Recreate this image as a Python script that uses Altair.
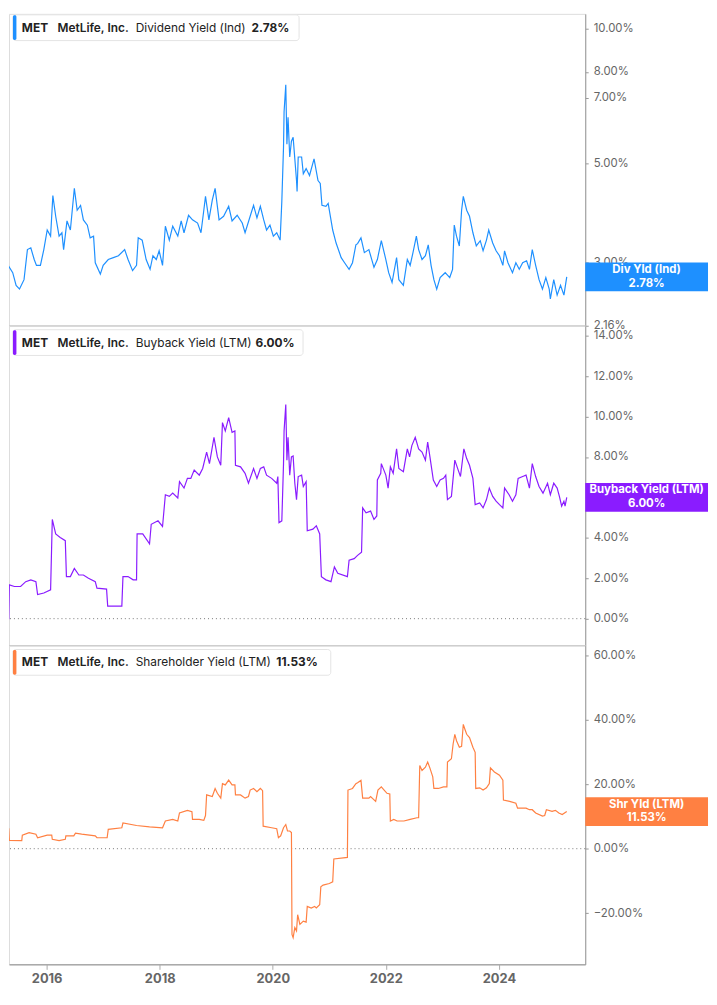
import altair as alt
import pandas as pd

# ---------------- data ----------------
div_years = [2015.19, 2015.31, 2015.32, 2015.40, 2015.46, 2015.52, 2015.60, 2015.66, 2015.72, 2015.78,
             2015.82, 2015.89, 2015.95, 2016.01, 2016.07, 2016.11, 2016.16, 2016.22, 2016.27, 2016.30,
             2016.36, 2016.42, 2016.49, 2016.54, 2016.60, 2016.65, 2016.72, 2016.77, 2016.83, 2016.86,
             2016.95, 2017.00, 2017.09, 2017.18, 2017.27, 2017.38, 2017.44, 2017.52, 2017.59, 2017.62,
             2017.69, 2017.76, 2017.83, 2017.88, 2017.94, 2017.99, 2018.05, 2018.10, 2018.17, 2018.23,
             2018.32, 2018.38, 2018.43, 2018.51, 2018.58, 2018.67, 2018.73, 2018.78, 2018.81, 2018.87,
             2018.93, 2018.98, 2019.05, 2019.13, 2019.22, 2019.28, 2019.37, 2019.46, 2019.51, 2019.60,
             2019.66, 2019.72, 2019.78, 2019.84, 2019.89, 2019.95, 2020.01, 2020.07, 2020.13, 2020.16,
             2020.19, 2020.20, 2020.23, 2020.25, 2020.27, 2020.30, 2020.33, 2020.36, 2020.42, 2020.43,
             2020.45, 2020.51, 2020.54, 2020.59, 2020.65, 2020.73, 2020.80, 2020.84, 2020.87, 2020.94,
             2020.98, 2021.06, 2021.12, 2021.21, 2021.27, 2021.35, 2021.41, 2021.47, 2021.50, 2021.56,
             2021.62, 2021.70, 2021.79, 2021.85, 2021.92, 2022.00, 2022.05, 2022.11, 2022.19, 2022.23,
             2022.31, 2022.38, 2022.43, 2022.48, 2022.54, 2022.58, 2022.64, 2022.70, 2022.75, 2022.80,
             2022.85, 2022.90, 2022.96, 2023.05, 2023.13, 2023.18, 2023.21, 2023.25, 2023.30, 2023.34,
             2023.37, 2023.43, 2023.48, 2023.54, 2023.60, 2023.67, 2023.72, 2023.78, 2023.82, 2023.89,
             2023.95, 2024.01, 2024.07, 2024.10, 2024.16, 2024.24, 2024.30, 2024.36, 2024.42, 2024.49,
             2024.54, 2024.59, 2024.65, 2024.71, 2024.77, 2024.83, 2024.89, 2024.91, 2024.97, 2025.03,
             2025.09, 2025.15, 2025.20]
div_values = [2.73, 2.77, 2.95, 2.84, 2.66, 2.61, 2.74, 3.20, 3.23, 3.04,
              2.95, 2.95, 3.20, 3.54, 3.43, 4.23, 3.80, 3.43, 3.49, 3.20,
              3.71, 3.54, 4.39, 3.92, 4.02, 3.73, 3.63, 3.40, 3.43, 2.99,
              2.82, 2.95, 3.04, 3.07, 3.10, 3.20, 3.04, 2.87, 2.95, 3.40,
              3.36, 3.04, 2.89, 3.10, 3.04, 3.18, 2.95, 3.61, 3.36, 3.61,
              3.43, 3.71, 3.49, 3.82, 3.73, 3.67, 3.49, 3.92, 4.21, 3.73,
              4.13, 4.39, 3.73, 3.80, 4.00, 3.71, 3.82, 3.67, 3.49, 3.80,
              4.02, 3.77, 4.00, 3.73, 3.54, 3.63, 3.43, 3.49, 3.36, 4.10,
              5.43, 6.52, 7.49, 5.51, 6.33, 5.16, 5.60, 5.71, 4.57, 4.32,
              5.16, 5.16, 4.73, 4.86, 4.69, 5.11, 4.57, 4.50, 4.02, 4.00,
              4.06, 3.54, 3.31, 3.07, 2.99, 2.89, 2.99, 3.28, 3.30, 3.40,
              3.15, 3.20, 2.92, 3.04, 3.35, 3.04, 2.84, 2.70, 3.07, 2.74,
              2.66, 3.04, 2.95, 3.15, 3.43, 3.20, 3.04, 3.10, 3.28, 2.95,
              2.74, 2.61, 2.77, 2.84, 2.77, 2.89, 3.63, 3.43, 3.26, 3.92,
              4.21, 3.92, 3.80, 3.49, 3.26, 3.35, 3.18, 3.36, 3.54, 3.31,
              3.18, 3.10, 2.95, 3.18, 2.99, 2.84, 2.99, 2.89, 2.99, 3.02,
              2.89, 3.20, 2.95, 2.74, 2.61, 2.77, 2.61, 2.48, 2.74, 2.53,
              2.66, 2.53, 2.78]

buy_years = [2015.19, 2015.33, 2015.34, 2015.43, 2015.54, 2015.63, 2015.72, 2015.81, 2015.84, 2015.95,
             2016.07, 2016.10, 2016.16, 2016.24, 2016.33, 2016.35, 2016.42, 2016.49, 2016.57, 2016.65,
             2016.74, 2016.86, 2016.89, 2017.06, 2017.08, 2017.33, 2017.35, 2017.44, 2017.53, 2017.59,
             2017.60, 2017.70, 2017.82, 2017.85, 2017.97, 2018.05, 2018.10, 2018.17, 2018.23, 2018.32,
             2018.35, 2018.43, 2018.49, 2018.55, 2018.61, 2018.70, 2018.76, 2018.83, 2018.88, 2018.96,
             2019.02, 2019.08, 2019.11, 2019.16, 2019.22, 2019.28, 2019.33, 2019.34, 2019.43, 2019.51,
             2019.57, 2019.66, 2019.72, 2019.78, 2019.84, 2019.89, 2019.98, 2020.07, 2020.09, 2020.11,
             2020.16, 2020.19, 2020.20, 2020.23, 2020.25, 2020.27, 2020.30, 2020.33, 2020.36, 2020.39,
             2020.42, 2020.45, 2020.51, 2020.54, 2020.59, 2020.61, 2020.71, 2020.77, 2020.83, 2020.86,
             2020.94, 2021.03, 2021.09, 2021.15, 2021.32, 2021.35, 2021.44, 2021.50, 2021.57, 2021.59,
             2021.65, 2021.73, 2021.79, 2021.84, 2021.85, 2021.91, 2021.92, 2022.00, 2022.04, 2022.08,
             2022.13, 2022.19, 2022.23, 2022.31, 2022.38, 2022.42, 2022.46, 2022.52, 2022.58, 2022.64,
             2022.70, 2022.74, 2022.78, 2022.84, 2022.90, 2022.96, 2023.02, 2023.06, 2023.09, 2023.16,
             2023.22, 2023.28, 2023.32, 2023.38, 2023.43, 2023.48, 2023.54, 2023.58, 2023.66, 2023.72,
             2023.78, 2023.83, 2023.89, 2023.95, 2024.01, 2024.07, 2024.10, 2024.18, 2024.24, 2024.30,
             2024.34, 2024.42, 2024.48, 2024.54, 2024.59, 2024.65, 2024.71, 2024.78, 2024.86, 2024.91,
             2024.97, 2025.03, 2025.07, 2025.11, 2025.15, 2025.17, 2025.20]
buy_values = [0.00, 0.00, 1.67, 1.59, 1.59, 1.83, 1.92, 1.83, 1.19, 1.27,
              1.43, 4.91, 4.19, 4.02, 3.86, 2.08, 2.08, 2.48, 2.16, 2.16,
              2.00, 1.83, 1.51, 1.46, 0.62, 0.62, 2.08, 2.08, 1.92, 1.92,
              4.19, 4.19, 3.70, 4.67, 4.84, 4.56, 6.13, 6.05, 6.21, 5.97,
              6.78, 6.46, 6.94, 6.94, 7.35, 7.10, 7.43, 8.24, 7.67, 8.97,
              8.00, 7.59, 9.70, 9.29, 9.95, 9.22, 9.29, 7.59, 7.51, 7.19,
              6.70, 7.43, 6.94, 7.43, 7.51, 7.10, 6.94, 6.70, 7.03, 4.75,
              4.84, 7.67, 9.29, 10.59, 7.84, 8.97, 7.10, 8.00, 8.05, 6.70,
              5.89, 7.03, 7.10, 6.54, 6.78, 4.35, 4.43, 4.59, 4.19, 2.08,
              1.92, 1.83, 2.56, 2.24, 2.08, 2.89, 2.97, 3.13, 3.29, 5.48,
              5.24, 5.32, 4.91, 5.08, 6.86, 7.19, 7.67, 7.10, 6.46, 7.51,
              7.19, 8.40, 7.43, 7.27, 8.40, 8.00, 8.56, 8.97, 8.40, 8.24,
              7.84, 8.73, 8.00, 6.86, 6.54, 6.86, 6.94, 7.10, 5.89, 6.05,
              7.84, 7.35, 7.03, 8.40, 7.92, 7.59, 6.94, 5.64, 5.72, 5.48,
              5.89, 6.46, 6.05, 5.81, 5.64, 5.48, 6.46, 6.13, 5.81, 6.13,
              6.94, 7.03, 7.10, 6.46, 7.67, 7.03, 6.54, 6.21, 6.70, 6.13,
              6.70, 6.46, 6.05, 5.57, 5.81, 5.57, 6.00]

shr_years = [2015.19, 2015.33, 2015.34, 2015.56, 2015.57, 2015.69, 2015.81, 2015.84, 2016.01, 2016.09,
             2016.10, 2016.22, 2016.33, 2016.34, 2016.48, 2016.51, 2016.62, 2016.86, 2016.89, 2017.07,
             2017.09, 2017.33, 2017.35, 2017.59, 2017.82, 2018.05, 2018.10, 2018.23, 2018.32, 2018.35,
             2018.49, 2018.57, 2018.58, 2018.70, 2018.78, 2018.81, 2018.83, 2018.93, 2018.98, 2019.02,
             2019.08, 2019.11, 2019.16, 2019.22, 2019.28, 2019.33, 2019.34, 2019.43, 2019.51, 2019.57,
             2019.60, 2019.66, 2019.72, 2019.78, 2019.82, 2019.83, 2019.98, 2020.07, 2020.10, 2020.14,
             2020.19, 2020.23, 2020.26, 2020.30, 2020.33, 2020.34, 2020.36, 2020.39, 2020.42, 2020.44,
             2020.48, 2020.54, 2020.59, 2020.61, 2020.68, 2020.74, 2020.77, 2020.83, 2020.85, 2020.89,
             2021.00, 2021.06, 2021.08, 2021.32, 2021.33, 2021.41, 2021.47, 2021.50, 2021.56, 2021.59,
             2021.70, 2021.73, 2021.82, 2021.86, 2021.92, 2021.97, 2022.02, 2022.07, 2022.08, 2022.14,
             2022.20, 2022.32, 2022.43, 2022.55, 2022.58, 2022.60, 2022.64, 2022.70, 2022.74, 2022.78,
             2022.83, 2022.85, 2022.93, 2023.02, 2023.08, 2023.09, 2023.16, 2023.19, 2023.22, 2023.25,
             2023.30, 2023.34, 2023.37, 2023.40, 2023.43, 2023.48, 2023.54, 2023.58, 2023.59, 2023.66,
             2023.72, 2023.78, 2023.83, 2023.85, 2023.92, 2024.01, 2024.07, 2024.08, 2024.19, 2024.30,
             2024.33, 2024.48, 2024.54, 2024.59, 2024.65, 2024.77, 2024.81, 2024.84, 2024.94, 2025.00,
             2025.06, 2025.12, 2025.20]
shr_values = [6.2, 6.2, 2.6, 2.5, 4.2, 5.0, 4.5, 3.4, 4.2, 4.2,
              2.9, 2.5, 2.9, 4.0, 4.0, 4.8, 4.5, 4.0, 3.4, 3.4,
              6.0, 6.5, 8.0, 7.2, 6.8, 6.5, 8.6, 9.1, 8.6, 11.1,
              11.9, 11.5, 9.1, 9.1, 8.8, 10.3, 16.7, 16.2, 18.7, 17.2,
              15.7, 20.2, 19.8, 21.3, 19.8, 19.8, 16.7, 16.7, 15.7, 16.2,
              18.2, 18.7, 17.7, 18.7, 18.0, 7.0, 6.5, 6.2, 3.4, 4.0,
              6.5, 7.5, 5.5, 5.5, 5.0, -26.6, -27.6, -24.5, -25.5, -20.5,
              -23.5, -22.5, -22.8, -17.9, -18.4, -17.9, -18.4, -17.4, -11.8, -11.3,
              -10.8, -10.3, -3.2, -2.7, 18.2, 18.7, 20.2, 20.5, 21.2, 15.7,
              15.7, 16.2, 14.7, 18.2, 19.2, 18.2, 17.2, 17.0, 8.6, 9.1,
              8.6, 8.6, 9.1, 9.6, 9.6, 25.8, 24.3, 25.3, 26.9, 25.0,
              22.3, 18.7, 18.7, 19.2, 19.2, 26.9, 27.9, 32.5, 35.5, 33.5,
              31.5, 31.8, 38.6, 37.0, 35.5, 34.5, 31.5, 29.9, 18.7, 18.9,
              18.2, 18.9, 20.2, 25.1, 23.8, 22.8, 21.3, 15.1, 14.7, 14.1,
              12.6, 12.6, 12.1, 12.1, 11.1, 10.1, 10.3, 12.1, 11.6, 11.9,
              11.1, 10.6, 11.53]

x_tick_years = [2016, 2018, 2020, 2022, 2024]
div_ticks = [2.16, 3, 5, 7, 8, 10]
buy_ticks = [0, 2, 4, 6, 8, 10, 12, 14]
shr_ticks = [-20, 0, 20, 40, 60]

ticker = "MET"
company = "MetLife, Inc."
metrics = ["Dividend Yield (Ind)", "Buyback Yield (LTM)", "Shareholder Yield (LTM)"]
badge_names = ["Div Yld (Ind)", "Buyback Yield (LTM)", "Shr Yld (LTM)"]
last_texts = ["2.78%", "6.00%", "11.53%"]
last_values = [2.78, 6.00, 11.53]

# ---------------- layout / style ----------------
W = 582
BADGE_W = 124
X_DOMAIN = [2015.334, 2025.527]
FONT = "Inter"
COLORS = ["#1E90FF", "#8A1CFF", "#FF8042"]
ANN = pd.DataFrame({"k": [0]})  # one row for annotation marks


def panel(years, values, color, yscale, yticks, metric, badge_name, last_text, last_value,
          box_right, value_x, show_x_axis, top_rule, zero_rule, height, box_top):
    df = pd.DataFrame({"year": years, "value": values})
    if show_x_axis:
        xaxis = alt.Axis(values=x_tick_years, format="d", grid=False, title=None,
                         domainColor="#aaaaaa", domainWidth=1.5, tickColor="#aaaaaa",
                         tickSize=5, labelFontSize=13, labelFontWeight="bold",
                         labelColor="#666666", labelPadding=3, labelFont=FONT)
    else:
        xaxis = None
    yaxis = alt.Axis(orient="right", values=yticks, title=None, grid=False,
                     labelExpr="format(datum.value, '.2f') + '%'",
                     domainColor="#999999", tickColor="#999999", tickSize=3,
                     labelColor="#666666", labelFontSize=11.5, labelFont=FONT,
                     labelPadding=5, labelOverlap=False, labelFlush=False)
    line = alt.Chart(df).mark_line(color=color, strokeWidth=1.2, clip=True).encode(
        x=alt.X("year:Q", scale=alt.Scale(domain=X_DOMAIN, nice=False, zero=False), axis=xaxis),
        y=alt.Y("value:Q", scale=yscale, axis=yaxis),
    )
    layers = []
    if top_rule:
        layers.append(alt.Chart(ANN).mark_rule(color="#cccccc", strokeWidth=1).encode(
            y=alt.value(0)))
    if zero_rule:
        layers.append(alt.Chart(ANN).mark_rule(color="#777777", strokeDash=[1, 3],
                                               strokeWidth=1).encode(y=alt.datum(0)))
    layers.append(line)
    # legend box
    layers.append(alt.Chart(ANN).mark_rect(fill="white", stroke="#e4e4e4", strokeWidth=1,
                                           cornerRadius=3).encode(
        x=alt.value(4), x2=alt.value(box_right), y=alt.value(box_top),
        y2=alt.value(box_top + 26)))
    layers.append(alt.Chart(ANN).mark_rect(fill=color, cornerRadius=1.5).encode(
        x=alt.value(4), x2=alt.value(7.5), y=alt.value(box_top + 0.5),
        y2=alt.value(box_top + 25.5)))
    for txt, xx, wt in [(ticker, 13, 700), (company, 49, 600), (metric, 128, 400),
                        (last_text, value_x, 700)]:
        layers.append(alt.Chart(ANN).mark_text(align="left", baseline="alphabetic", font=FONT,
                                               fontSize=12, fontWeight=wt,
                                               color="#222222").encode(
            x=alt.value(xx), y=alt.value(box_top + 17), text=alt.value(txt)))
    # badge at the last value
    layers.append(alt.Chart(ANN).mark_tick(color=color, thickness=29, size=BADGE_W,
                                           opacity=1).encode(
        x=alt.value(W + BADGE_W / 2), y=alt.datum(last_value)))
    for txt, dy in [(badge_name, -7), (last_text, 7)]:
        layers.append(alt.Chart(ANN).mark_text(align="center", baseline="middle", font=FONT,
                                               fontSize=11.5, fontWeight="bold", color="white",
                                               dy=dy).encode(
            x=alt.value(W + BADGE_W / 2), y=alt.datum(last_value), text=alt.value(txt)))
    return alt.layer(*layers).properties(width=W, height=height)


p1 = panel(div_years, div_values, COLORS[0],
           alt.Scale(type="log", domain=[2.16, 10.8], nice=False), div_ticks,
           metrics[0], badge_names[0], last_texts[0], last_values[0],
           293, 245, False, False, False, 315, 1)
p2 = panel(buy_years, buy_values, COLORS[1],
           alt.Scale(domain=[-1.33, 14.49], nice=False, zero=False), buy_ticks,
           metrics[1], badge_names[1], last_texts[1], last_values[1],
           297, 249, False, True, True, 323, 4)
p3 = panel(shr_years, shr_values, COLORS[2],
           alt.Scale(domain=[-35.9, 63.05], nice=False, zero=False), shr_ticks,
           metrics[2], badge_names[2], last_texts[2], last_values[2],
           325, 270, True, True, True, 322, 4)

chart = alt.vconcat(p1, p2, p3, spacing=0, bounds="flush").resolve_scale(
    y="independent").properties(
    padding={"left": 0, "top": 0, "right": 0, "bottom": 2}
).configure_view(stroke=None).configure(background="white")

chart.save("out.html", embed_options={"renderer": "svg", "actions": False})
